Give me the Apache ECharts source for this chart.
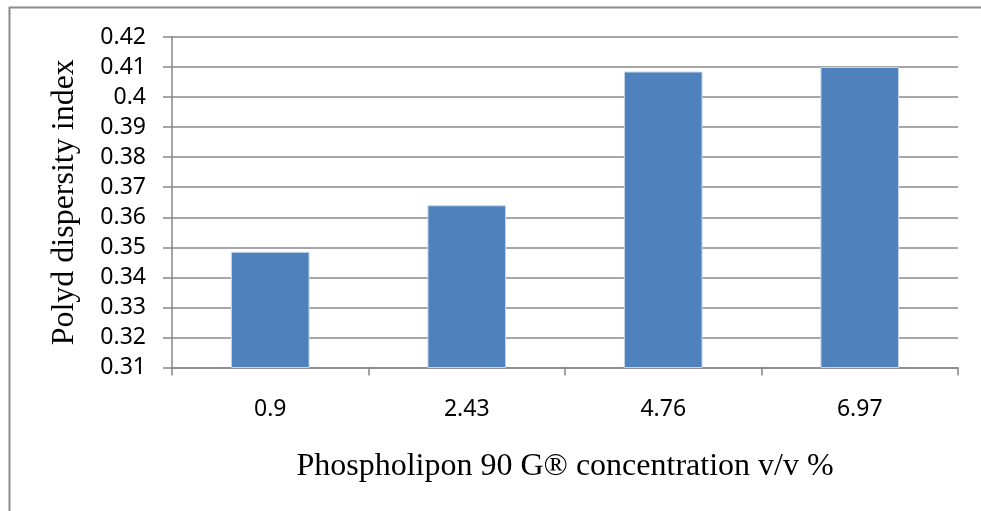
<!DOCTYPE html>
<html>
<head>
<meta charset="utf-8">
<script src="https://cdn.jsdelivr.net/npm/echarts@6/dist/echarts.min.js"></script>
<style>
  html, body { margin: 0; padding: 0; background: #fff; }
  #chart { width: 981px; height: 511px; }
</style>
</head>
<body>
<div id="chart"></div>
<script>
// Phospholipon 90 G concentration (v/v %) and measured polydispersity index
const categories = ['0.9', '2.43', '4.76', '6.97'];
const pdiValues = [0.3485, 0.364, 0.4085, 0.41];
const yMin = 0.31;
const yMax = 0.42;
const yStep = 0.01;

const chart = echarts.init(document.getElementById('chart'), null, { renderer: 'canvas' });

const sans = '"Noto Sans", "Open Sans", sans-serif';
const serif = '"Liberation Serif", "DejaVu Serif", serif';

chart.setOption({
  animation: false,
  backgroundColor: '#ffffff',
  graphic: [{
    type: 'rect',
    shape: { x: 9.5, y: 7.5, width: 1000, height: 600 },
    style: { fill: 'none', stroke: '#8a8a8a', lineWidth: 2 },
    silent: true
  }],
  grid: { left: 172, right: 23, top: 37, bottom: 143.5, containLabel: false },
  xAxis: {
    type: 'category',
    data: categories,
    boundaryGap: true,
    name: 'Phospholipon 90 G® concentration v/v %',
    nameLocation: 'middle',
    nameGap: 83,
    nameTextStyle: { fontFamily: serif, fontSize: 32, color: '#000' },
    axisLine: { show: true, lineStyle: { color: '#868686', width: 1.5 } },
    axisTick: { show: true, length: 8, lineStyle: { color: '#868686', width: 1.5 } },
    axisLabel: { margin: 30, fontFamily: sans, fontSize: 23, color: '#000' },
    splitLine: { show: false }
  },
  yAxis: {
    type: 'value',
    min: yMin,
    max: yMax,
    interval: yStep,
    name: 'Polyd dispersity index',
    nameLocation: 'middle',
    nameGap: 91,
    nameRotate: 90,
    nameTextStyle: { fontFamily: serif, fontSize: 32, color: '#000' },
    axisLine: { show: true, lineStyle: { color: '#868686', width: 1.5 } },
    axisTick: { show: true, inside: false, length: 9, lineStyle: { color: '#868686', width: 1.5 } },
    axisLabel: {
      margin: 26,
      fontFamily: sans,
      fontSize: 23,
      color: '#000',
      formatter: v => String(parseFloat(v.toFixed(2)))
    },
    splitLine: { show: true, lineStyle: { color: '#8a8a8a', width: 1.5 } }
  },
  series: [{
    type: 'bar',
    data: pdiValues,
    barWidth: '40%',
    itemStyle: { color: '#4F81BD', borderColor: '#C6D6EA', borderWidth: 1 }
  }]
});
</script>
</body>
</html>
